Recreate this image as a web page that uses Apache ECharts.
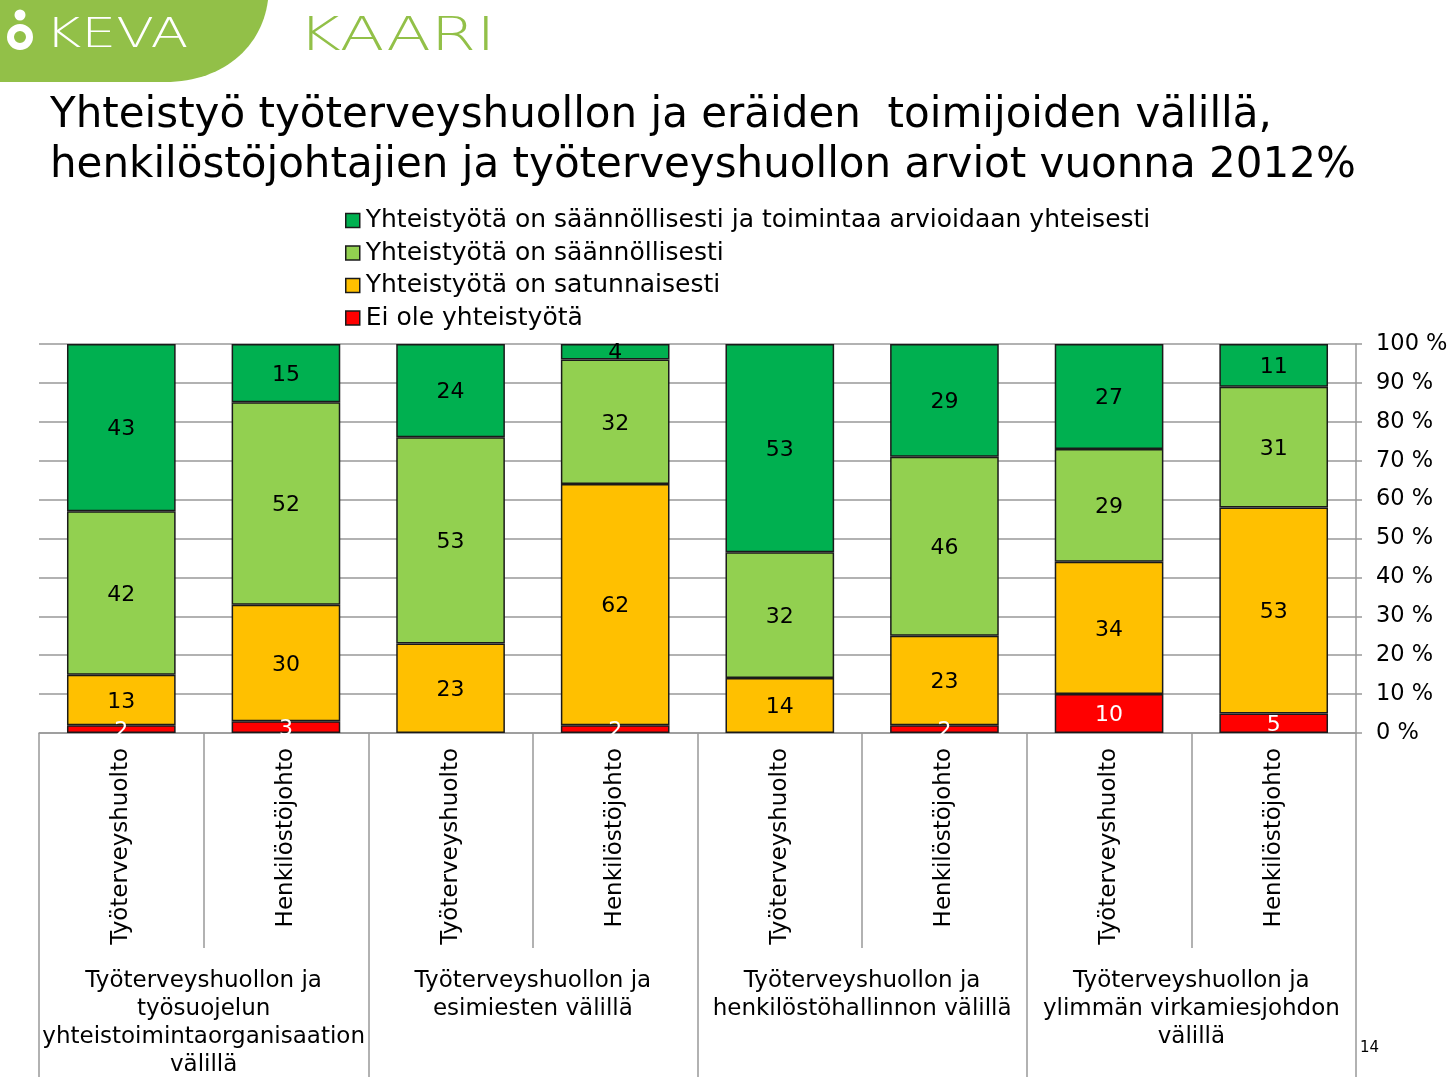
<!DOCTYPE html>
<html>
<head>
<meta charset="utf-8">
<script src="https://cdn.jsdelivr.net/npm/echarts@6/dist/echarts.min.js"></script>
<style>
html,body{margin:0;padding:0;background:#fff;}
#chart{width:1455px;height:1080px;}
</style>
</head>
<body>
<div id="chart"></div>
<script>
var categories = ['Työterveyshuolto','Henkilöstöjohto','Työterveyshuolto','Henkilöstöjohto','Työterveyshuolto','Henkilöstöjohto','Työterveyshuolto','Henkilöstöjohto'];
var groups = ['Työterveyshuollon ja\ntyösuojelun\nyhteistoimintaorganisaation\nvälillä','Työterveyshuollon ja\nesimiesten välillä','Työterveyshuollon ja\nhenkilöstöhallinnon välillä','Työterveyshuollon ja\nylimmän virkamiesjohdon\nvälillä'];
var seriesNames = ['Yhteistyötä on säännöllisesti ja toimintaa arvioidaan yhteisesti','Yhteistyötä on säännöllisesti','Yhteistyötä on satunnaisesti','Ei ole yhteistyötä'];
var darkGreen = [43,15,24,4,53,29,27,11];
var lightGreen = [42,52,53,32,32,46,29,31];
var yellow = [13,30,23,62,14,23,34,53];
var red = [2,3,0,2,0,2,10,5];
var yTicks = [0,10,20,30,40,50,60,70,80,90,100];

var raw = [red, yellow, lightGreen, darkGreen];
var totals = categories.map(function(_, i){ return red[i]+yellow[i]+lightGreen[i]+darkGreen[i]; });
var colors = ['#FF0000','#FFC000','#92D050','#00B050'];
var names = [seriesNames[3], seriesNames[2], seriesNames[1], seriesNames[0]];
var FONT = '"DejaVu Sans", Verdana, sans-serif';

var series = raw.map(function(arr, k){
  return {
    name: names[k], type: 'bar', stack: 'all', xAxisIndex: 0, yAxisIndex: 0,
    barCategoryGap: '34%',
    itemStyle: {color: colors[k], borderColor: '#1a1a1a', borderWidth: 1.5},
    label: {
      show: true, position: 'inside', offset: [0, 2], fontFamily: FONT, fontSize: 22,
      color: k === 0 ? '#ffffff' : '#000000',
      formatter: function(p){ var v = arr[p.dataIndex]; return v > 0 ? String(v) : ''; }
    },
    emphasis: {disabled: true},
    data: arr.map(function(v, i){ return v > 0 ? v / totals[i] * 100 : '-'; })
  };
});

// logo shape outline (decorative): cubic curve sampled to polygon
function bez(p0, p1, p2, p3, t){ var u = 1 - t; return u*u*u*p0 + 3*u*u*t*p1 + 3*u*t*t*p2 + t*t*t*p3; }
var logoPts = [[0,0],[268,0]];
for (var s = 1; s <= 30; s++) { var t = s / 30; logoPts.push([bez(268,262,222,165,t), bez(0,48,82,82,t)]); }
logoPts.push([0,82]);

var chart = echarts.init(document.getElementById('chart'), null, {renderer: 'canvas'});
chart.setOption({
  animation: false,
  backgroundColor: '#ffffff',
  title: {
    text: 'Yhteistyö työterveyshuollon ja eräiden  toimijoiden välillä,\nhenkilöstöjohtajien ja työterveyshuollon arviot vuonna 2012%',
    left: 45, top: 86,
    textStyle: {fontFamily: FONT, fontSize: 42, fontWeight: 'normal', color: '#000', lineHeight: 50}
  },
  legend: {
    orient: 'vertical', left: 340, top: 203,
    icon: 'rect',
    itemWidth: 14, itemHeight: 14, itemGap: 7.5,
    data: seriesNames,
    itemStyle: {borderColor: '#1a1a1a', borderWidth: 1.5},
    textStyle: {fontFamily: FONT, fontSize: 25, lineHeight: 25, color: '#000', padding: [0,0,0,1]},
    selectedMode: false
  },
  grid: {left: 39, right: 99, top: 344, bottom: 347, containLabel: false},
  xAxis: [
    {
      type: 'category', position: 'bottom', data: categories,
      axisLine: {show: true, lineStyle: {color: '#999', width: 1.5}},
      axisTick: {show: true, length: 215, interval: 0, alignWithLabel: false, lineStyle: {color: '#999', width: 1.5}},
      axisLabel: {rotate: 90, interval: 0, margin: 15, fontFamily: FONT, fontSize: 23, color: '#000'},
      splitLine: {show: false}
    },
    {
      type: 'category', position: 'bottom', data: groups,
      axisLine: {show: false},
      axisTick: {show: true, length: 344, interval: 0, alignWithLabel: false, lineStyle: {color: '#999', width: 1.5}},
      axisLabel: {interval: 0, margin: 234, fontFamily: FONT, fontSize: 23, lineHeight: 28, color: '#000', align: 'center', verticalAlign: 'top'},
      splitLine: {show: false}
    }
  ],
  yAxis: {
    type: 'value', position: 'right', min: 0, max: 100, interval: 10,
    axisLine: {show: true, lineStyle: {color: '#999', width: 1.5}},
    axisTick: {show: true, length: 6, lineStyle: {color: '#999', width: 1.5}},
    axisLabel: {margin: 20, fontFamily: FONT, fontSize: 22.5, color: '#000', padding: [4, 0, 0, 0],
      formatter: function(v){ return yTicks.indexOf(v) >= 0 ? v + ' %' : ''; }},
    splitLine: {show: true, lineStyle: {color: '#999', width: 1.5}}
  },
  series: series,
  graphic: [
    {type: 'polygon', shape: {points: logoPts}, style: {fill: '#92C048'}, silent: true},
    {type: 'circle', shape: {cx: 20, cy: 15, r: 5.5}, style: {fill: '#fff'}},
    {type: 'circle', shape: {cx: 20, cy: 37, r: 9.5}, style: {fill: 'none', stroke: '#fff', lineWidth: 7}},
    {type: 'text', x: 45, y: 16, scaleX: 1.35, style: {text: 'KEVA', fill: '#fff', font: '200 41px "DejaVu Sans", sans-serif'}},
    {type: 'text', x: 298, y: 15, scaleX: 1.42, style: {text: 'KAARI', fill: '#92C048', font: '300 46px "DejaVu Sans", sans-serif'}},
    {type: 'text', left: 1360, top: 1041, style: {text: '14', fill: '#000', font: '15px "DejaVu Sans", sans-serif'}}
  ]
});
</script>
</body>
</html>
